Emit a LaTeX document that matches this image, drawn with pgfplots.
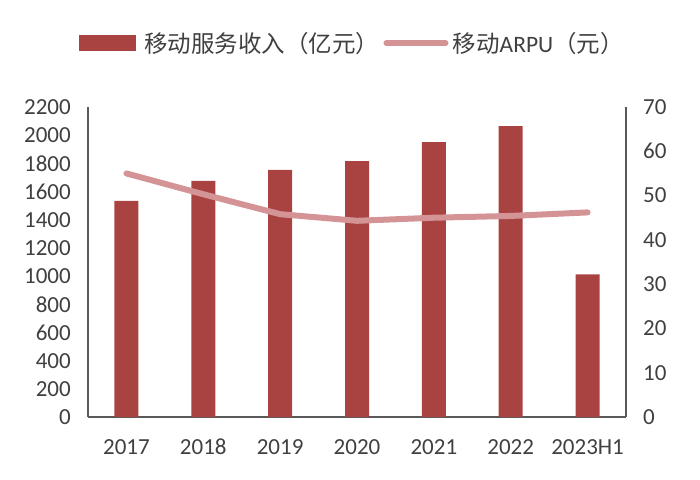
\documentclass[border=0pt]{standalone}
\usepackage{pgfplots}
\pgfplotsset{compat=1.18}
\usepackage{fontspec}
\setmainfont{Carlito}
\newfontfamily\cjk{Noto Sans CJK SC}
\definecolor{barred}{RGB}{169,67,66}
\definecolor{linepink}{RGB}{212,148,150}
\definecolor{axisgray}{RGB}{89,89,89}
\definecolor{txtgray}{RGB}{64,64,64}
\begin{document}
\begin{tikzpicture}
\path[use as bounding box] (0,0) rectangle (700pt,479pt);
\begin{axis}[
  at={(88pt,62pt)}, anchor=south west,
  scale only axis, width=538pt, height=310pt,
  xmin=-0.5, xmax=6.5, ymin=0, ymax=2200,
  ytick={0,200,...,2200},
  xtick={0,...,6},
  xticklabels={2017,2018,2019,2020,2021,2022,2023H1},
  axis y line*=left, axis x line*=bottom,
  axis line style={axisgray, line width=1.4pt},
  major tick length=0pt,
  tick style={draw=none},
  /pgf/number format/assume math mode=true,
  /pgf/number format/1000 sep={},
  ticklabel style={font=\fontsize{23}{27}\selectfont, text=txtgray, inner sep=0pt},
  yticklabel style={xshift=-17pt},
  xticklabel style={text height=15pt, text depth=0pt, yshift=-22pt},
  legend style={draw=none, fill=none, at={(0.49,1.206)}, anchor=center,
    font=\fontsize{23.5}{27}\selectfont\color{txtgray},
    legend columns=2,
    /tikz/every even column/.append style={column sep=4pt},
    nodes={inner sep=0pt}, cells={anchor=west}},
  clip=false,
]
\addplot[ybar, bar width=24pt, fill=barred, draw=none,
  legend image code/.code={\fill[barred] (0pt,-8pt) rectangle (57pt,8pt); \path (65pt,0pt);}]
  coordinates {(0,1533) (1,1675) (2,1753) (3,1815) (4,1950) (5,2065) (6,1013)};
\addlegendentry{\cjk 移动服务收入（亿元）}
\addlegendimage{legend image code/.code={\draw[linepink, line width=6pt, line cap=round] (3pt,0pt) -- (62pt,0pt); \path (69pt,0pt);}}
\addlegendentry{\cjk 移动\fontspec{Carlito}ARPU\cjk（元）}
\end{axis}
\begin{axis}[
  at={(88pt,62pt)}, anchor=south west,
  scale only axis, width=538pt, height=310pt,
  xmin=-0.5, xmax=6.5, ymin=0, ymax=70,
  ytick={0,10,...,70},
  axis y line*=right, axis x line=none,
  axis line style={axisgray, line width=1.4pt},
  major tick length=0pt,
  tick style={draw=none},
  /pgf/number format/assume math mode=true,
  ticklabel style={font=\fontsize{23}{27}\selectfont, text=txtgray, inner sep=0pt},
  yticklabel style={xshift=17pt},
  clip=false,
]
\addplot[linepink, line width=6pt, line cap=round, line join=round]
  coordinates {(0,55.0) (1,50.3) (2,45.8) (3,44.3) (4,45.0) (5,45.4) (6,46.2)};
\end{axis}
\end{tikzpicture}
\end{document}
